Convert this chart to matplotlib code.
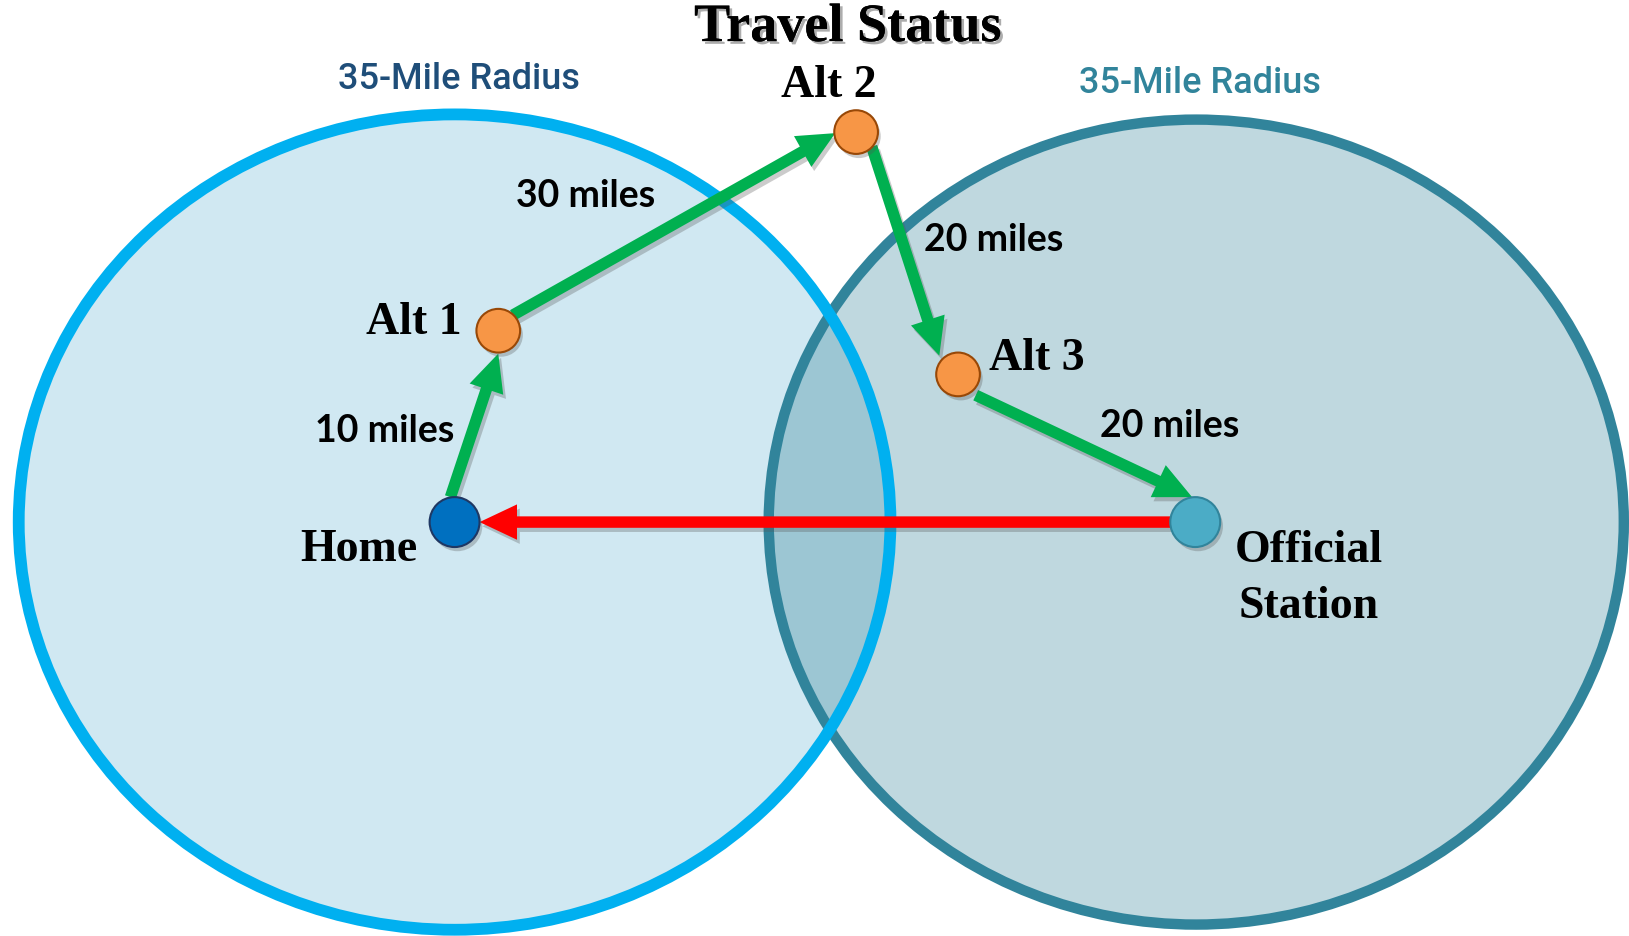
import matplotlib
matplotlib.use("Agg")
import matplotlib.pyplot as plt
from matplotlib.patches import Ellipse, Circle, FancyArrow
import matplotlib.patheffects as pe

# layout units: 1566 x 900 (reference scaled down by ~1.04)
W, H = 1566, 900

# nodes
node_names = ["Home", "Alt 1", "Alt 2", "Alt 3", "Official\nStation"]
node_x = [437, 479, 823, 921, 1149]
node_y = [502, 318, 127, 360, 502]

# trips: (from, to, label)
trip_from = [0, 1, 2, 3]
trip_to = [1, 2, 3, 4]
trip_miles = ["10 miles", "30 miles", "20 miles", "20 miles"]

radius_label = "35-Mile Radius"
title = "Travel Status"

fig = plt.figure(figsize=(16.29, 9.36), dpi=100)
ax = fig.add_axes([0, 0, 1, 1])
ax.set_xlim(0, W)
ax.set_ylim(H, 0)
ax.axis("off")

# radius circles
left = Ellipse((437, 502), 838, 784, facecolor="#D0E8F2", edgecolor="none", zorder=1)
right = Ellipse((1150, 502), 822, 774, facecolor="#BFD8DF", edgecolor="none", zorder=1)
ax.add_patch(left)
ax.add_patch(right)
overlap = Ellipse((1150, 502), 822, 774, facecolor="#9CC6D3", edgecolor="none", zorder=1.5)
ax.add_patch(overlap)
overlap.set_clip_path(left)
ax.add_patch(Ellipse((1150, 502), 822, 774, facecolor="none", edgecolor="#31849B",
                     lw=7.5, zorder=2))
ax.add_patch(Ellipse((437, 502), 838, 784, facecolor="none", edgecolor="#00B0F0",
                     lw=8.5, zorder=2.1))

shadow = [pe.withSimplePatchShadow(offset=(2, -3), shadow_rgbFace="#555555", alpha=0.3)]

# green trip arrows
arrow_start = [(433, 478), (493, 303), (838, 141), (938, 380)]
arrow_tip = [(479, 340), (803, 128), (903, 342), (1146, 478)]
for (x0, y0), (x1, y1) in zip(arrow_start, arrow_tip):
    a = FancyArrow(x0, y0, x1 - x0, y1 - y0, width=11, head_width=34, head_length=36,
                   length_includes_head=True, color="#00B050", lw=0, zorder=3)
    a.set_path_effects(shadow)
    ax.add_patch(a)

# red return arrow
a = FancyArrow(1125, 502, 461 - 1125, 0, width=11, head_width=34, head_length=36,
               length_includes_head=True, color="#FF0000", lw=0, zorder=3)
a.set_path_effects(shadow)
ax.add_patch(a)

# node dots
node_face = ["#0070C0", "#F79646", "#F79646", "#F79646", "#4BACC6"]
node_edge = ["#1F3864", "#984807", "#984807", "#984807", "#31849B"]
node_r = [24, 21, 21, 21, 24]
for x, y, fc, ec, r in zip(node_x, node_y, node_face, node_edge, node_r):
    c = Circle((x, y), r, facecolor=fc, edgecolor=ec, lw=1.5, zorder=4)
    c.set_path_effects(shadow)
    ax.add_patch(c)

serif = dict(family="Liberation Serif", fontweight="bold", color="black", zorder=5)
label_pos = [(345, 529), (398, 311), (797, 83), (997, 345), (1258, 557)]
for name, (x, y) in zip(node_names, label_pos):
    ax.text(x, y, name, fontsize=33, ha="center", va="center", linespacing=1.45, **serif)

ax.text(815, 27, title, fontsize=39, ha="center", va="center",
        path_effects=[pe.withSimplePatchShadow(offset=(2, -2), shadow_rgbFace="#777777", alpha=0.6),
                      pe.Normal()], **serif)

ax.text(441, 76, radius_label, fontsize=26, ha="center", va="center",
        family="Roboto", fontweight="medium", color="#1F4E79", zorder=5)
ax.text(1154, 80, radius_label, fontsize=26, ha="center", va="center",
        family="Roboto", fontweight="medium", color="#31849B", zorder=5)

miles_pos = [(370, 414), (563, 188), (955, 231), (1124, 410)]
for lab, (x, y) in zip(trip_miles, miles_pos):
    ax.text(x, y, lab, fontsize=27, fontweight="bold", family="Lato",
            ha="center", va="center", color="black", zorder=5)

fig.savefig("out.png", dpi=100)
